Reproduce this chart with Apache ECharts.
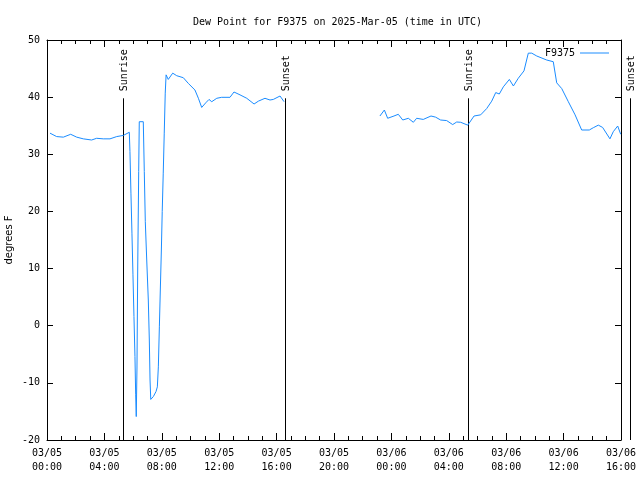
<!DOCTYPE html>
<html>
<head>
<meta charset="utf-8">
<script src="https://cdn.jsdelivr.net/npm/echarts@6/dist/echarts.min.js"></script>
<style>html,body{margin:0;padding:0;background:#fff}#c{width:640px;height:480px}</style>
</head>
<body>
<div id="c"></div>
<script>
// hours since 2025-03-05 00:00 UTC
const hours = [
  0.21,0.67,1.14,1.65,2.07,2.53,3.11,3.46,3.92,4.39,4.86,5.32,5.735,
  5.78,5.85,5.92,5.99,6.06,6.13,6.18,6.22,6.27,6.32,6.39,6.43,6.71,
  6.78,6.85,6.95,7.06,7.13,7.18,7.23,7.41,7.60,7.69,7.76,7.83,7.90,7.97,8.03,8.10,8.17,8.24,
  8.30,8.45,8.76,9.04,9.50,9.85,10.31,10.55,10.78,11.06,11.29,11.48,11.83,12.17,12.75,13.03,
  13.45,13.92,14.43,14.73,15.19,15.54,15.77,16.24,16.52,
  20.0,
  23.2,23.51,23.74,24.18,24.48,24.79,25.18,25.53,25.76,26.22,26.76,27.08,27.43,27.85,28.27,
  28.55,28.83,29.32,29.76,30.22,30.64,30.99,31.27,31.52,31.80,32.22,32.50,32.84,33.24,33.54,
  33.78,34.13,34.82,35.28,35.52,35.87,36.33,36.8,37.26,37.79,38.07,38.42,38.72,39.23,39.46,
  39.77,39.98
];
const dewPoint = [
  33.7,33.1,33.0,33.5,33.0,32.7,32.5,32.8,32.7,32.7,33.1,33.3,33.85,
  30.5,23.2,16.2,8.9,1.6,-5.4,-12.1,-15.9,-7.4,9.75,27.0,35.7,35.7,
  27.0,18.2,11.5,4.5,-2.5,-9.5,-12.9,-12.4,-11.5,-10.7,-7.2,-0.2,6.6,13.25,20.0,26.7,33.7,40.7,
  43.9,43.1,44.2,43.75,43.4,42.4,41.25,39.8,38.2,39.0,39.6,39.2,39.8,39.97,39.97,40.9,
  40.4,39.8,38.8,39.3,39.8,39.5,39.6,40.2,39.2,
  null,
  36.7,37.75,36.3,36.7,37.0,36.0,36.3,35.6,36.3,36.1,36.7,36.5,36.0,35.9,35.2,
  35.65,35.6,35.1,36.7,36.9,38.0,39.3,40.8,40.55,41.8,43.1,41.95,43.3,44.6,47.7,
  47.7,47.2,46.5,46.2,42.5,41.5,39.2,36.9,34.25,34.25,34.65,35.1,34.7,32.7,33.95,
  34.95,33.5
];
const sunHours = [5.3, 16.58, 29.34, 40.6];
const sunLabels = ['Sunrise', 'Sunset', 'Sunrise', 'Sunset'];
const sunLineTop = 39.8;
const xTickLabels = ['03/05\n00:00','03/05\n04:00','03/05\n08:00','03/05\n12:00','03/05\n16:00','03/05\n20:00',
                     '03/06\n00:00','03/06\n04:00','03/06\n08:00','03/06\n12:00','03/06\n16:00'];
const yMin = -20, yMax = 50, yStep = 10;
const seriesName = 'F9375';
const yTitle = 'degrees F';

const FONT = 'DejaVu Sans Mono';
const blue = '#1a8cff';
const chart = echarts.init(document.getElementById('c'), null, {renderer: 'canvas'});

const lineData = hours.map((h, i) => [h, dewPoint[i]]);
const sunData = sunHours.map((h, i) => [h, sunLineTop, i]);

const baseX = {
  type: 'value', min: 0, max: 40, interval: 4,
  axisLine: {show: true, onZero: false, lineStyle: {color: '#000', width: 1}},
  axisTick: {show: true, inside: true, length: 7, lineStyle: {color: '#000'}},
  minorTick: {show: true, splitNumber: 4, length: 4, lineStyle: {color: '#000'}},
  splitLine: {show: false}
};
const baseY = {
  type: 'value', min: yMin, max: yMax, interval: yStep,
  axisLine: {show: true, onZero: false, lineStyle: {color: '#000', width: 1}},
  axisTick: {show: true, inside: true, length: 6, lineStyle: {color: '#000'}},
  splitLine: {show: false}
};

chart.setOption({
  animation: false,
  backgroundColor: '#fff',
  title: {
    text: 'Dew Point for F9375 on 2025-Mar-05 (time in UTC)',
    left: 188, top: 12,
    textStyle: {fontFamily: FONT, fontSize: 10, fontWeight: 'normal', color: '#000'}
  },
  legend: {
    data: [{name: seriesName, icon: 'rect'}],
    right: 26, top: 43, align: 'right',
    itemWidth: 29, itemHeight: 1,
    textStyle: {fontFamily: FONT, fontSize: 10, color: '#000'}
  },
  graphic: [{
    type: 'text', left: 4, top: 'middle', rotation: Math.PI / 2,
    style: {text: yTitle, fill: '#000', fontFamily: 'DejaVu Sans', fontSize: 10}
  }],
  grid: {left: 47, right: 19, top: 40, bottom: 40, containLabel: false, outerBoundsMode: 'none'},
  xAxis: [
    Object.assign({}, baseX, {
      position: 'bottom',
      axisLabel: {
        show: true, margin: 6, color: '#000', fontFamily: FONT, fontSize: 10, lineHeight: 14,
        formatter: v => xTickLabels[Math.round(v / 4)] || ''
      }
    }),
    Object.assign({}, baseX, {position: 'top', axisLabel: {show: false}})
  ],
  yAxis: [
    Object.assign({}, baseY, {
      position: 'left',
      axisLabel: {show: true, margin: 7, color: '#000', fontFamily: FONT, fontSize: 10}
    }),
    Object.assign({}, baseY, {position: 'right', axisLabel: {show: false}})
  ],
  series: [
    {
      name: seriesName, type: 'line', data: lineData,
      xAxisIndex: 0, yAxisIndex: 0,
      showSymbol: false, symbol: 'none', connectNulls: false,
      lineStyle: {color: blue, width: 1}, itemStyle: {color: blue},
      z: 3
    },
    {
      name: 'sun', type: 'custom', data: sunData, clip: false,
      xAxisIndex: 0, yAxisIndex: 0,
      encode: {x: 0, y: 1},
      renderItem: function (params, api) {
        const t = api.value(0);
        const top = api.coord([t, api.value(1)]);
        const bot = api.coord([t, yMin]);
        const x = Math.round(top[0]) + 0.5;
        return {
          type: 'group',
          children: [
            {type: 'line', shape: {x1: x, y1: top[1], x2: x, y2: bot[1]},
             style: {stroke: '#000', lineWidth: 1}},
            {type: 'text', x: x + 1, y: top[1] - 7, rotation: Math.PI / 2,
             style: {text: sunLabels[api.value(2)], fill: '#000', fontFamily: FONT, fontSize: 10,
                     align: 'left', verticalAlign: 'middle'}}
          ]
        };
      },
      z: 2
    }
  ]
});
</script>
</body>
</html>
